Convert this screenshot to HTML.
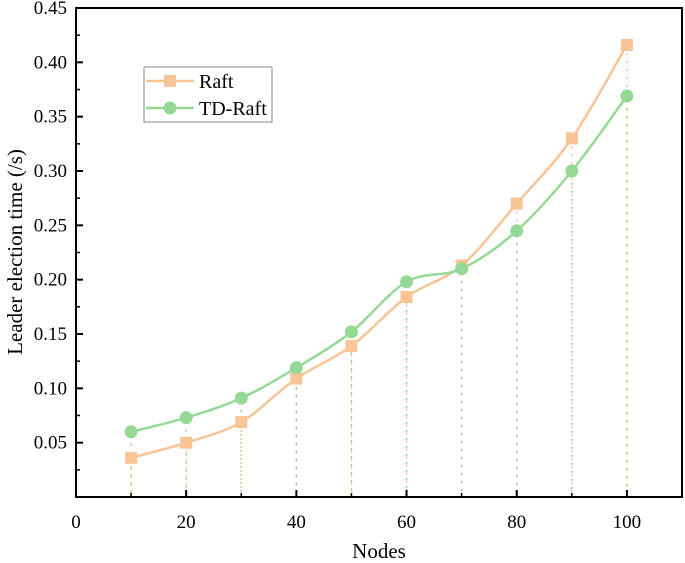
<!DOCTYPE html>
<html><head><meta charset="utf-8"><style>
body{margin:0;background:#fff}
svg{display:block;font-family:"Liberation Serif",serif}
</style></head><body>
<svg id="chart" width="685" height="563"></svg>
<script>
const nodes=[10,20,30,40,50,60,70,80,90,100];
const raftValues=[0.036,0.050,0.069,0.109,0.139,0.184,0.213,0.270,0.330,0.416];
const tdRaftValues=[0.060,0.073,0.091,0.119,0.152,0.198,0.210,0.245,0.300,0.369];
const xTicks=[0,20,40,60,80,100];
const yTicks=[0.05,0.10,0.15,0.20,0.25,0.30,0.35,0.40,0.45];

const NS="http://www.w3.org/2000/svg";
const svg=document.getElementById('chart');
const L=76,R=682,T=8,B=497;
const xs=v=>L+(v/110)*(R-L);
const ys=v=>B-(v/0.45)*(B-T);
function mk(tag,attrs,parent){const e=document.createElementNS(NS,tag);for(const k in attrs)e.setAttribute(k,attrs[k]);(parent||svg).appendChild(e);return e;}

// drop lines
function drops(vals,color,offset){
  vals.forEach((v,i)=>{
    const l=mk('line',{x1:xs(nodes[i]),x2:xs(nodes[i]),y1:ys(v),y2:B,stroke:color,'stroke-width':1.5,'stroke-dasharray':'2,6','stroke-dashoffset':offset});
    
    
  });
}
drops(raftValues,'#f7bd8f',0);
drops(tdRaftValues,'#8fd18f',4);

function smooth(vals){
  const p=vals.map((v,i)=>[xs(nodes[i]),ys(v)]);
  let d=`M${p[0][0]},${p[0][1]}`;
  for(let i=0;i<p.length-1;i++){
    const p0=p[i-1]||p[i],p1=p[i],p2=p[i+1],p3=p[i+2]||p2;
    const c1=[p1[0]+(p2[0]-p0[0])/6,p1[1]+(p2[1]-p0[1])/6];
    const c2=[p2[0]-(p3[0]-p1[0])/6,p2[1]-(p3[1]-p1[1])/6];
    d+=`C${c1[0]},${c1[1]} ${c2[0]},${c2[1]} ${p2[0]},${p2[1]}`;
  }
  return d;
}
const lr=mk('path',{d:smooth(raftValues),fill:'none',stroke:'#f9c496','stroke-width':2.5});


const lt=mk('path',{d:smooth(tdRaftValues),fill:'none',stroke:'#96d896','stroke-width':2.5});



raftValues.forEach((v,i)=>{
  const r=mk('rect',{x:xs(nodes[i])-6,y:ys(v)-6,width:12,height:12,fill:'#f9c496'});
  
  
});
tdRaftValues.forEach((v,i)=>{
  const c=mk('circle',{cx:xs(nodes[i]),cy:ys(v),r:6.5,fill:'#96d896'});
  
  
});

// axes frame
const fr=mk('rect',{x:L,y:T,width:R-L,height:B-T,fill:'none',stroke:'#000','stroke-width':2});



xTicks.forEach(v=>{
  mk('line',{x1:xs(v),x2:xs(v),y1:B,y2:B-7,stroke:'#000','stroke-width':2});
  mk('line',{x1:xs(v+10),x2:xs(v+10),y1:B,y2:B-4,stroke:'#000','stroke-width':1.5});
  const t=mk('text',{x:xs(v),y:B+31,'text-anchor':'middle','font-size':19});
  t.textContent=v;
  
  
});
yTicks.forEach(v=>{
  mk('line',{x1:L,x2:L+7,y1:ys(v),y2:ys(v),stroke:'#000','stroke-width':2});
  mk('line',{x1:L,x2:L+4,y1:ys(v-0.025),y2:ys(v-0.025),stroke:'#000','stroke-width':1.5});
  const t=mk('text',{x:L-9,y:ys(v)+6,'text-anchor':'end','font-size':19});
  t.textContent=v.toFixed(2);
  
  
});

const xt=mk('text',{x:379,y:558,'text-anchor':'middle','font-size':21});
xt.textContent='Nodes';


const yt=mk('text',{x:0,y:0,'text-anchor':'middle','font-size':21,transform:'translate(22,252) rotate(-90)'});
yt.textContent='Leader election time (/s)';



// legend
const lg=mk('g',{});


mk('rect',{x:144,y:67,width:128,height:55,fill:'#fff',stroke:'#888','stroke-width':1},lg);
mk('line',{x1:146,x2:194,y1:81,y2:81,stroke:'#f9c496','stroke-width':2.5},lg);
mk('rect',{x:164,y:75,width:12,height:12,fill:'#f9c496'},lg);
const t1=mk('text',{x:199,y:88,'font-size':20},lg);t1.textContent='Raft';


mk('line',{x1:146,x2:194,y1:108,y2:108,stroke:'#96d896','stroke-width':2.5},lg);
mk('circle',{cx:170,cy:108,r:6.5,fill:'#96d896'},lg);
const t2=mk('text',{x:199,y:115,'font-size':20},lg);t2.textContent='TD-Raft';


</script>
</body></html>
